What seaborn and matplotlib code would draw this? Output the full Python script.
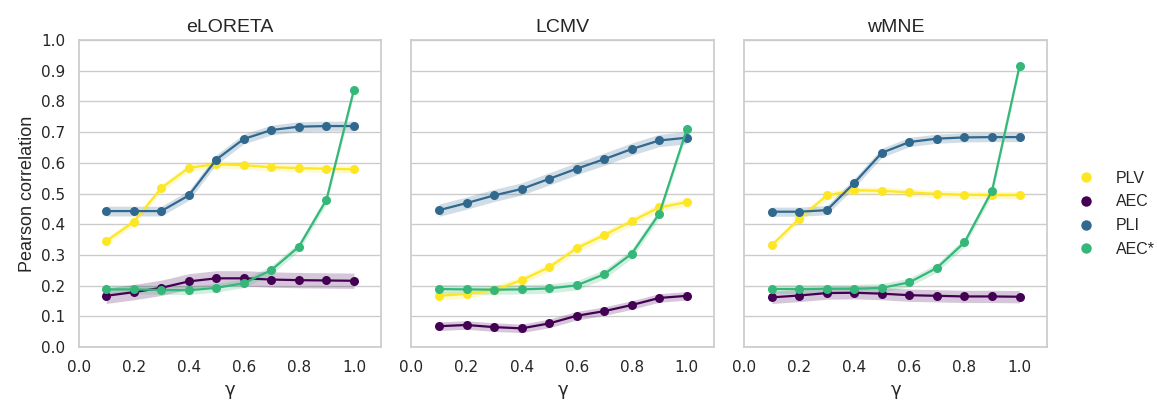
import numpy as np
import pandas as pd
import seaborn as sns
import matplotlib
matplotlib.use("Agg")
import matplotlib.pyplot as plt
from matplotlib.lines import Line2D

gamma = [0.1, 0.2, 0.3, 0.4, 0.5, 0.6, 0.7, 0.8, 0.9, 1.0]
methods = ["PLV", "AEC", "PLI", "AEC*"]
panels = ["eLORETA", "LCMV", "wMNE"]
colors = {"PLV": "#fde725", "AEC": "#440154", "PLI": "#31688e", "AEC*": "#35b779"}

# mean correlation per method, one list per panel
eloreta = {
    "PLV":  [0.345, 0.408, 0.518, 0.584, 0.596, 0.592, 0.586, 0.583, 0.581, 0.579],
    "AEC":  [0.167, 0.179, 0.193, 0.214, 0.224, 0.224, 0.220, 0.218, 0.217, 0.216],
    "PLI":  [0.443, 0.443, 0.443, 0.494, 0.611, 0.678, 0.707, 0.718, 0.720, 0.720],
    "AEC*": [0.188, 0.188, 0.186, 0.185, 0.193, 0.208, 0.251, 0.327, 0.480, 0.839],
}
lcmv = {
    "PLV":  [0.167, 0.173, 0.186, 0.218, 0.260, 0.322, 0.365, 0.410, 0.455, 0.472],
    "AEC":  [0.068, 0.072, 0.065, 0.061, 0.077, 0.102, 0.117, 0.137, 0.160, 0.167],
    "PLI":  [0.446, 0.469, 0.494, 0.515, 0.548, 0.581, 0.612, 0.645, 0.673, 0.682],
    "AEC*": [0.189, 0.188, 0.187, 0.188, 0.191, 0.201, 0.237, 0.304, 0.434, 0.709],
}
wmne = {
    "PLV":  [0.332, 0.418, 0.494, 0.511, 0.509, 0.504, 0.499, 0.496, 0.495, 0.495],
    "AEC":  [0.162, 0.168, 0.176, 0.177, 0.174, 0.169, 0.167, 0.165, 0.165, 0.164],
    "PLI":  [0.441, 0.441, 0.446, 0.535, 0.633, 0.668, 0.679, 0.683, 0.684, 0.684],
    "AEC*": [0.189, 0.189, 0.190, 0.190, 0.193, 0.211, 0.258, 0.341, 0.509, 0.916],
}
# half width of the confidence band
eloreta_ci = {"PLV": 0.012, "AEC": 0.025, "PLI": 0.016, "AEC*": 0.014}
lcmv_ci = {"PLV": 0.013, "AEC": 0.014, "PLI": 0.02, "AEC*": 0.015}
wmne_ci = {"PLV": 0.012, "AEC": 0.02, "PLI": 0.015, "AEC*": 0.014}

means = [eloreta, lcmv, wmne]
cis = [eloreta_ci, lcmv_ci, wmne_ci]

sns.set_theme(style="whitegrid")
plt.rcParams["font.family"] = ["DejaVu Sans"]

fig, axes = plt.subplots(1, 3, figsize=(11.57, 4.05), dpi=100, sharey=True)
fig.subplots_adjust(left=0.068, right=0.905, bottom=0.143, top=0.901, wspace=0.099)

for ax, name, mean, ci in zip(axes, panels, means, cis):
    rows = []
    for m in methods:
        for g, v in zip(gamma, mean[m]):
            rows.append({"gamma": g, "value": v, "method": m})
    df = pd.DataFrame(rows)
    for m in methods:
        lo = np.array(mean[m]) - ci[m]
        hi = np.array(mean[m]) + ci[m]
        ax.fill_between(gamma, lo, hi, color=colors[m], alpha=0.22, linewidth=0)
    sns.lineplot(data=df, x="gamma", y="value", hue="method", hue_order=methods,
                 palette=colors, marker="o", markersize=6.5, markeredgewidth=0,
                 linewidth=1.6, errorbar=None, legend=False, ax=ax)
    ax.set_xlim(0, 1.1)
    ax.set_ylim(0, 1.0)
    ax.set_xticks([0.0, 0.2, 0.4, 0.6, 0.8, 1.0])
    ax.set_yticks(np.arange(0, 1.01, 0.1))
    ax.set_yticklabels([f"{t:.1f}" for t in np.arange(0, 1.01, 0.1)])
    ax.xaxis.grid(False)
    ax.tick_params(labelsize=11)
    ax.set_title(name, fontsize=14, family="Liberation Sans")
    ax.set_xlabel("γ", fontsize=13)
    ax.set_ylabel("")

axes[0].set_ylabel("Pearson correlation", fontsize=13, family="Liberation Sans")

handles = [Line2D([], [], linestyle="none", marker="o", markersize=7.5,
                  markeredgewidth=0, color=colors[m]) for m in methods]
fig.legend(handles, methods, loc="center left", bbox_to_anchor=(0.912, 0.472),
           frameon=False, prop={"family": "Liberation Sans", "size": 11.5},
           handletextpad=0.9, labelspacing=0.55)

fig.savefig("out.png", dpi=100)
